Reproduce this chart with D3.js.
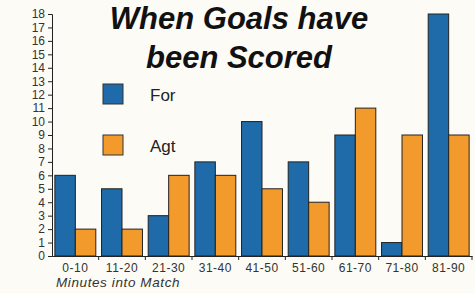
<!DOCTYPE html>
<html>
<head>
<meta charset="utf-8">
<script src="https://cdn.jsdelivr.net/npm/d3@7"></script>
<style>
  body { margin: 0; background: #fcfbf6; }
  svg { display: block; }
</style>
</head>
<body>
<div id="chart"></div>
<script>
// данные
const categories = ["0-10", "11-20", "21-30", "31-40", "41-50", "51-60", "61-70", "71-80", "81-90"];
const goalsFor = [6, 5, 3, 7, 10, 7, 9, 1, 18];
const goalsAgt = [2, 2, 6, 6, 5, 4, 11, 9, 9];
const seriesNames = ["For", "Agt"];
const yTicks = d3.range(0, 19);

const width = 475;
const height = 293;
const margin = {top: 14, right: 3, bottom: 37, left: 52};

const colors = {For: "#1f6aa8", Agt: "#f29b2c"};

const svg = d3.select("#chart").append("svg")
    .attr("width", width)
    .attr("height", height);

const x = d3.scaleBand()
    .domain(categories)
    .range([margin.left, width - margin.right])
    .paddingInner(0)
    .paddingOuter(0);

const x1 = d3.scaleBand()
    .domain(seriesNames)
    .range([0, x.bandwidth()])
    .paddingOuter(0.14)
    .paddingInner(0);

const y = d3.scaleLinear()
    .domain([0, 18])
    .range([height - margin.bottom, margin.top]);

// столбцы
const rows = categories.map((c, i) => ({cat: c, For: goalsFor[i], Agt: goalsAgt[i]}));

const groups = svg.append("g")
    .selectAll("g")
    .data(rows)
    .enter()
    .append("g")
    .attr("transform", d => "translate(" + x(d.cat) + ",0)");

groups.selectAll("rect")
    .data(d => seriesNames.map(k => ({key: k, value: d[k]})))
    .enter()
    .append("rect")
    .attr("x", d => x1(d.key))
    .attr("y", d => y(d.value))
    .attr("width", x1.bandwidth())
    .attr("height", d => y(0) - y(d.value))
    .attr("fill", d => colors[d.key])
    .attr("stroke", "#222")
    .attr("stroke-width", 1);

// ось Y
const yAxis = svg.append("g")
    .attr("transform", "translate(" + margin.left + ",0)")
    .call(d3.axisLeft(y).tickValues(yTicks).tickSize(4).tickPadding(3));

yAxis.selectAll("text")
    .style("font-family", "'Liberation Sans Narrow', 'Liberation Sans', Arial, sans-serif")
    .style("font-size", "12px")
    .attr("fill", "#333");

// ось X
const xAxis = svg.append("g")
    .attr("transform", "translate(0," + y(0) + ")")
    .call(d3.axisBottom(x).tickSize(0).tickPadding(7));

xAxis.selectAll("text")
    .style("font-family", "'Liberation Sans', Arial, sans-serif")
    .style("font-size", "12px")
    .style("letter-spacing", "0.5px")
    .attr("fill", "#333");

// засечки между группами
svg.append("g")
    .selectAll("line")
    .data(categories)
    .enter()
    .append("line")
    .attr("x1", d => x(d) + x.bandwidth())
    .attr("x2", d => x(d) + x.bandwidth())
    .attr("y1", y(0))
    .attr("y2", y(0) + 4)
    .attr("stroke", "#222");

svg.selectAll(".domain").attr("stroke", "#222");
svg.selectAll(".tick line").attr("stroke", "#222");

// подпись оси X
svg.append("text")
    .attr("x", 56)
    .attr("y", 287)
    .style("font-family", "'Liberation Sans', Arial, sans-serif")
    .style("font-size", "13.5px")
    .style("font-style", "italic")
    .style("letter-spacing", "0.6px")
    .attr("fill", "#333")
    .text("Minutes into Match");

// заголовок
const title = svg.append("text")
    .attr("text-anchor", "middle")
    .style("font-family", "'Liberation Sans', Arial, sans-serif")
    .style("font-size", "31px")
    .style("font-weight", "bold")
    .style("font-style", "italic")
    .attr("fill", "#111");

title.append("tspan").attr("x", 239).attr("y", 29).text("When Goals have");
title.append("tspan").attr("x", 239).attr("y", 68).text("been Scored");

// легенда
const legend = svg.append("g")
    .selectAll("g")
    .data(seriesNames)
    .enter()
    .append("g")
    .attr("transform", (d, i) => "translate(103," + (84 + i * 51) + ")");

legend.append("rect")
    .attr("width", 20)
    .attr("height", 20)
    .attr("fill", d => colors[d])
    .attr("stroke", "#333");

legend.append("text")
    .attr("x", 47)
    .attr("y", 17)
    .style("font-family", "'Liberation Sans', Arial, sans-serif")
    .style("font-size", "17px")
    .attr("fill", "#222")
    .text(d => d);
</script>
</body>
</html>
